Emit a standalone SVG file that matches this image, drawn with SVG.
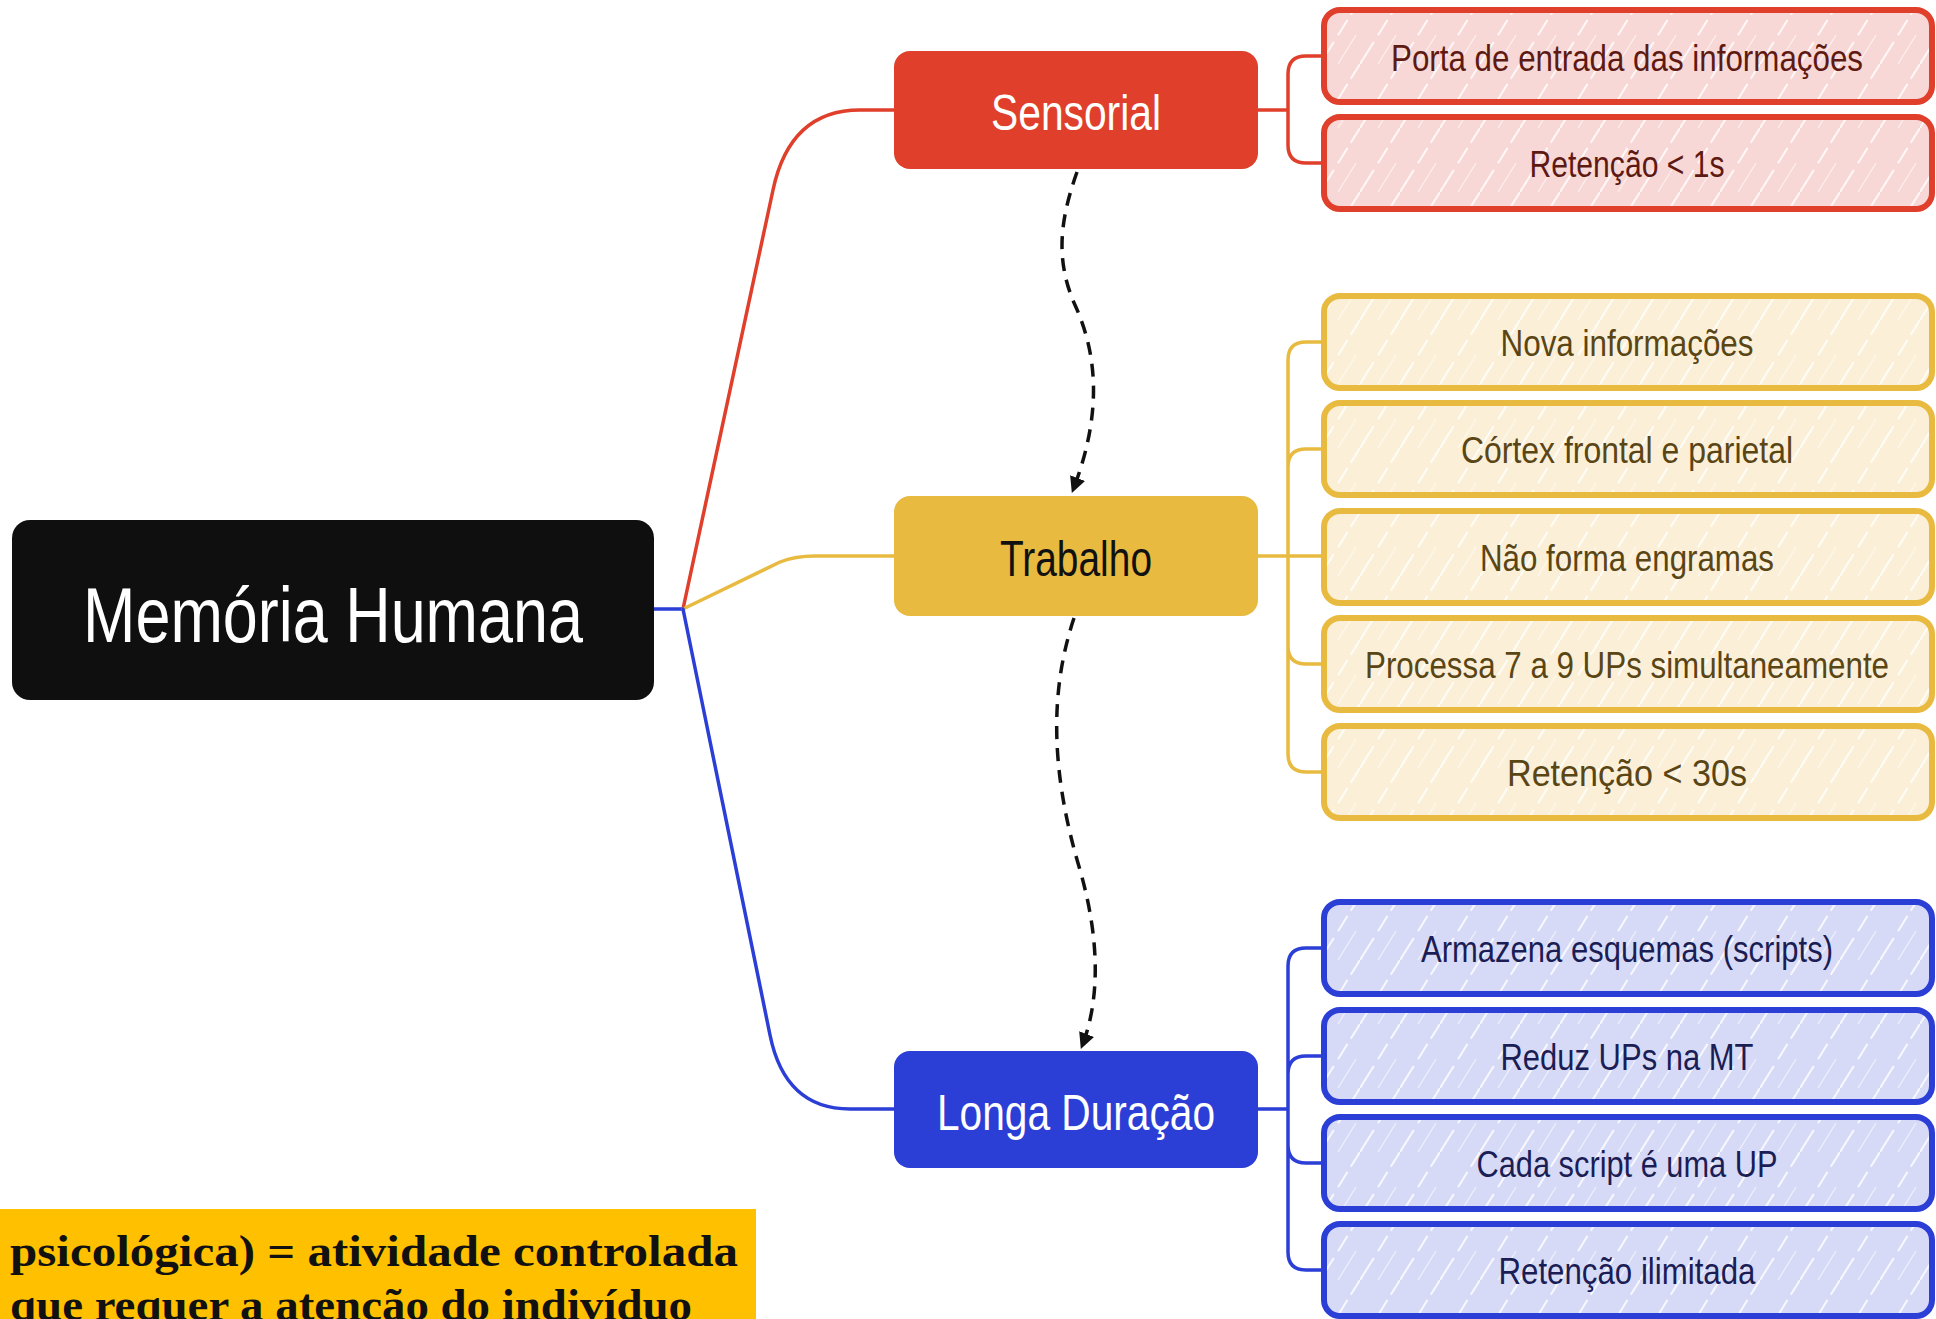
<svg xmlns="http://www.w3.org/2000/svg" width="1936" height="1319" viewBox="0 0 1936 1319">
<defs>
<style>
.hand{font-family:"Liberation Sans","DejaVu Sans",sans-serif;text-anchor:middle}
.ct{font-size:37px}
.mid{font-size:50px}
.conn{fill:none;stroke-width:3.5;stroke-linecap:round;stroke-linejoin:round}
.dash{fill:none;stroke:#111;stroke-width:3.5;stroke-dasharray:13 9}
.cr{fill:#f8d8d6;stroke:#df3f2b}
.cy{fill:#fbf0d7;stroke:#e8ba40}
.cb{fill:#d7daf6;stroke:#2b3ed6}
.box{stroke-width:6;stroke-linejoin:round}
.hat{fill:url(#hatch);stroke:none}
</style>
<pattern id="hatch" patternUnits="userSpaceOnUse" width="40" height="64">
<path d="M0,64 L40,0" stroke="#ffffff" stroke-width="2" stroke-dasharray="26 8 18 6" opacity="0.8" fill="none"/>
<path d="M18,64 L36,35" stroke="#ffffff" stroke-width="1.4" opacity="0.55" fill="none"/>
</pattern>
<marker id="arr" viewBox="0 0 10 10" refX="8" refY="5" markerWidth="16" markerHeight="16" markerUnits="userSpaceOnUse" orient="auto">
<path d="M0,0 L10,5 L0,10 z" fill="#111"/>
</marker>
</defs>
<rect width="1936" height="1319" fill="#ffffff"/>

<g id="connectors">
<path class="conn" stroke="#2b3ed6" d="M654,609 H683"/>
<path class="conn" stroke="#df3f2b" d="M683,609 L773,190 Q790,110 860,110 L894,110"/>
<path class="conn" stroke="#e8ba40" d="M683,609 L780,562 Q795,556 815,556 L894,556"/>
<path class="conn" stroke="#2b3ed6" d="M683,609 L770,1035 Q785,1109 850,1109 L894,1109"/>

<path class="conn" stroke="#df3f2b" d="M1258,110 H1288 M1288,110 V74 Q1288,56 1306,56 H1324 M1288,110 V145 Q1288,163 1306,163 H1324"/>
<path class="conn" stroke="#e8ba40" d="M1258,556 H1324 M1288,556 V360 Q1288,342 1306,342 H1324 M1288,556 V467 Q1288,449 1306,449 H1324 M1288,556 V646 Q1288,664 1306,664 H1324 M1288,556 V754 Q1288,772 1306,772 H1324"/>
<path class="conn" stroke="#2b3ed6" d="M1258,1109 H1288 M1288,1109 V966 Q1288,948 1306,948 H1324 M1288,1109 V1074 Q1288,1056 1306,1056 H1324 M1288,1109 V1145 Q1288,1163 1306,1163 H1324 M1288,1109 V1252 Q1288,1270 1306,1270 H1324"/>

<path class="dash" marker-end="url(#arr)" d="M1077,172 C1060,220 1055,260 1075,305 C1100,360 1100,420 1073,490"/>
<path class="dash" marker-end="url(#arr)" d="M1074,618 C1050,690 1050,770 1080,870 C1100,940 1100,1000 1082,1046"/>
</g>

<g id="root">
<rect x="12" y="520" width="642" height="180" rx="18" fill="#0f0f0f"/>
<text class="hand" x="333" y="642" font-size="78" fill="#ffffff" textLength="500" lengthAdjust="spacingAndGlyphs">Memória Humana</text>
</g>

<g id="sensorial">
<rect x="894" y="51" width="364" height="118" rx="16" fill="#df3f2b"/>
<text class="hand mid" x="1076" y="130" fill="#ffffff" textLength="170" lengthAdjust="spacingAndGlyphs">Sensorial</text>
</g>
<g id="trabalho">
<rect x="894" y="496" width="364" height="120" rx="16" fill="#e8ba40"/>
<text class="hand mid" x="1076" y="576" fill="#111111" textLength="152" lengthAdjust="spacingAndGlyphs">Trabalho</text>
</g>
<g id="longa">
<rect x="894" y="1051" width="364" height="117" rx="16" fill="#2b3ed6"/>
<text class="hand mid" x="1076" y="1130" fill="#ffffff" textLength="278" lengthAdjust="spacingAndGlyphs">Longa Duração</text>
</g>

<g id="s1"><rect class="box cr" x="1324" y="10" width="608" height="92" rx="16"/><rect class="hat" x="1327" y="13" width="602" height="86" rx="14"/>
<text class="hand ct" x="1627" y="71" font-size="34" fill="#5e1a12" textLength="472" lengthAdjust="spacingAndGlyphs">Porta de entrada das informações</text></g>
<g id="s2"><rect class="box cr" x="1324" y="117" width="608" height="92" rx="16"/><rect class="hat" x="1327" y="120" width="602" height="86" rx="14"/>
<text class="hand ct" x="1627" y="177" fill="#5e1a12" textLength="195" lengthAdjust="spacingAndGlyphs">Retenção &lt; 1s</text></g>

<g id="t1"><rect class="box cy" x="1324" y="296" width="608" height="92" rx="16"/><rect class="hat" x="1327" y="299" width="602" height="86" rx="14"/>
<text class="hand ct" x="1627" y="356" fill="#5a4515" textLength="253" lengthAdjust="spacingAndGlyphs">Nova informações</text></g>
<g id="t2"><rect class="box cy" x="1324" y="403" width="608" height="92" rx="16"/><rect class="hat" x="1327" y="406" width="602" height="86" rx="14"/>
<text class="hand ct" x="1627" y="463" fill="#5a4515" textLength="332" lengthAdjust="spacingAndGlyphs">Córtex frontal e parietal</text></g>
<g id="t3"><rect class="box cy" x="1324" y="511" width="608" height="92" rx="16"/><rect class="hat" x="1327" y="514" width="602" height="86" rx="14"/>
<text class="hand ct" x="1627" y="571" fill="#5a4515" textLength="294" lengthAdjust="spacingAndGlyphs">Não forma engramas</text></g>
<g id="t4"><rect class="box cy" x="1324" y="618" width="608" height="92" rx="16"/><rect class="hat" x="1327" y="621" width="602" height="86" rx="14"/>
<text class="hand ct" x="1627" y="678" font-size="32" fill="#5a4515" textLength="524" lengthAdjust="spacingAndGlyphs">Processa 7 a 9 UPs simultaneamente</text></g>
<g id="t5"><rect class="box cy" x="1324" y="726" width="608" height="92" rx="16"/><rect class="hat" x="1327" y="729" width="602" height="86" rx="14"/>
<text class="hand ct" x="1627" y="786" fill="#5a4515" textLength="240" lengthAdjust="spacingAndGlyphs">Retenção &lt; 30s</text></g>

<g id="l1"><rect class="box cb" x="1324" y="902" width="608" height="92" rx="16"/><rect class="hat" x="1327" y="905" width="602" height="86" rx="14"/>
<text class="hand ct" x="1627" y="962" font-size="35" fill="#1b1d55" textLength="412" lengthAdjust="spacingAndGlyphs">Armazena esquemas (scripts)</text></g>
<g id="l2"><rect class="box cb" x="1324" y="1010" width="608" height="92" rx="16"/><rect class="hat" x="1327" y="1013" width="602" height="86" rx="14"/>
<text class="hand ct" x="1627" y="1070" fill="#1b1d55" textLength="253" lengthAdjust="spacingAndGlyphs">Reduz UPs na MT</text></g>
<g id="l3"><rect class="box cb" x="1324" y="1117" width="608" height="92" rx="16"/><rect class="hat" x="1327" y="1120" width="602" height="86" rx="14"/>
<text class="hand ct" x="1627" y="1177" fill="#1b1d55" textLength="301" lengthAdjust="spacingAndGlyphs">Cada script é uma UP</text></g>
<g id="l4"><rect class="box cb" x="1324" y="1224" width="608" height="92" rx="16"/><rect class="hat" x="1327" y="1227" width="602" height="86" rx="14"/>
<text class="hand ct" x="1627" y="1284" fill="#1b1d55" textLength="257" lengthAdjust="spacingAndGlyphs">Retenção ilimitada</text></g>

<g id="note">
<rect x="0" y="1209" width="756" height="112" fill="#ffc000"/>
<text x="10" y="1266" font-family="Liberation Serif, serif" font-weight="bold" font-size="44" fill="#111111" textLength="728" lengthAdjust="spacingAndGlyphs">psicológica) = atividade controlada</text>
<text x="10" y="1320" font-family="Liberation Serif, serif" font-weight="bold" font-size="44" fill="#111111" textLength="682" lengthAdjust="spacingAndGlyphs">que requer a atenção do indivíduo</text>
</g>
</svg>
